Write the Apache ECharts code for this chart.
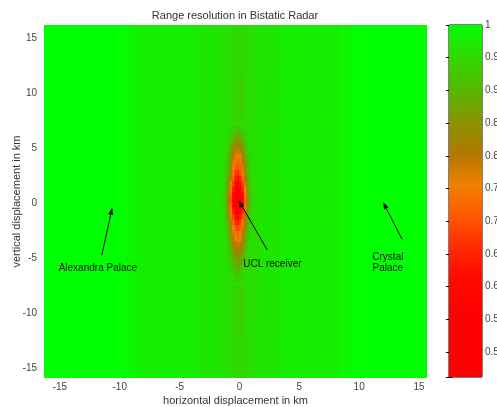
<!DOCTYPE html>
<html>
<head>
<meta charset="utf-8">
<script src="https://cdn.jsdelivr.net/npm/echarts@6/dist/echarts.min.js"></script>
<style>
  html, body { margin: 0; padding: 0; background: #fff; }
  #chart { width: 497px; height: 407px; }
</style>
</head>
<body>
<div id="chart"></div>
<script>
// coarse field, 1 km cells (x -16..16, y 16..-16)
const coarseX = [-16, -15, -14, -13, -12, -11, -10, -9, -8, -7, -6, -5, -4, -3, -2, -1, 0,
  1, 2, 3, 4, 5, 6, 7, 8, 9, 10, 11, 12, 13, 14, 15, 16];
const coarseY = [16, 15, 14, 13, 12, 11, 10, 9, 8, 7, 6, 5, 4, 3, 2, 1, 0,
  -1, -2, -3, -4, -5, -6, -7, -8, -9, -10, -11, -12, -13, -14, -15, -16];
const coarseRows = [
  "000000012222233454332222210000000",
  "000000012222233454332222210000000",
  "000000012222233454332222210000000",
  "000000012222233454332222210000000",
  "000000012222233454332222210000000",
  "000000012222233464332222210000000",
  "000000012222233464332222210000000",
  "000000012222233464332222210000000",
  "000000012222233464332222210000000",
  "000000012222233444332222210000000",
  "000000012222233444332222210000000",
  "000000012222233444332222210000000",
  "000000012222233444332222210000000",
  "000000012222233444332222210000000",
  "000000012222233444332222210000000",
  "000000012222233444332222210000000",
  "000000012222233444332222210000000",
  "000000012222233444332222210000000",
  "000000012222233444332222210000000",
  "000000012222233444332222210000000",
  "000000012222233444332222210000000",
  "000000012222233444332222210000000",
  "000000012222233444332222210000000",
  "000000012222233444332222210000000",
  "000000012222233464332222210000000",
  "000000012222233464332222210000000",
  "000000012222233464332222210000000",
  "000000012222233464332222210000000",
  "000000012222233454332222210000000",
  "000000012222233454332222210000000",
  "000000012222233454332222210000000",
  "000000012222233454332222210000000",
  "000000012222233454332222210000000"
];

// fine field round the receiver, 0.2 km x 0.5 km cells
const fineX = [-1.52, -1.32, -1.12, -0.92, -0.72, -0.52, -0.32, -0.12,
  0.08, 0.28, 0.48, 0.68, 0.88, 1.08, 1.28, 1.48];
const fineY = [6.75, 6.25, 5.75, 5.25, 4.75, 4.25, 3.75, 3.25, 2.75, 2.25, 1.75, 1.25, 0.75, 0.25,
  -0.25, -0.75, -1.25, -1.75, -2.25, -2.75, -3.25, -3.75, -4.25, -4.75, -5.25, -5.75, -6.25, -6.75];
const fineRows = [
  "4444568876444444",
  "444469aba8644444",
  "44458accba744444",
  "4446aceedc964444",
  "4447bdfgfda74444",
  "4459cfhiheb84444",
  "445adgijifc95444",
  "446adhjkjgd95444",
  "446beilmkhda5444",
  "447cfjnomjeb6444",
  "448chlpqolgc7444",
  "449dinrtrmhc8444",
  "45aejptvsoid8444",
  "45aekquwtpjd9444",
  "45aejptusoid8444",
  "449dinqsqmgc7444",
  "448cglopnkfb7444",
  "447bfjmnliea6444",
  "446aehkljgda5444",
  "445adgijifc95444",
  "4459cfhiheb84444",
  "4448befgfdb74444",
  "4447acefeca64444",
  "44469bddcb854444",
  "44457abbba744444",
  "444469aba8644444",
  "4444579987544444",
  "4444457765444444"
];

const levelKeys = "0123456789abcdefghijklmnopqrstuvw";
const levelValues = [1, 0.99, 0.98, 0.97, 0.96, 0.95, 0.94, 0.93, 0.92, 0.91,
  0.9, 0.88, 0.86, 0.84, 0.82, 0.8, 0.78, 0.76, 0.74, 0.72, 0.7, 0.68, 0.66,
  0.64, 0.62, 0.6, 0.58, 0.56, 0.54, 0.52, 0.5, 0.48, 0.46];

// colormap, low -> high
const palette = ["#ff0000", "#ff0000", "#ff0000", "#ff0800", "#ff2800", "#ff5800",
  "#f08000", "#b07800", "#889400", "#55b800", "#30d800", "#00ff00"];
const valueMin = 0.462;
const valueMax = 1;

const notes = [
  { text: "Alexandra Palace", at: [-11.83, -5.9], tail: [-11.5, -4.73], tip: [-10.63, -0.41] },
  { text: "Crystal\nPalace", at: [12.4, -5.4], tail: [13.58, -3.27], tip: [12.0, 0.09] },
  { text: "UCL receiver", at: [2.75, -5.6], tail: [2.33, -4.27], tip: [-0.08, 0.27] }
];

const font = "Liberation Sans";

function toCells(xs, ys, rows) {
  const out = [];
  rows.forEach(function (row, j) {
    for (let i = 0; i < row.length; i++) {
      out.push([xs[i], ys[j], levelValues[levelKeys.indexOf(row[i])]]);
    }
  });
  return out;
}

function cellRenderer(w, h) {
  return function (params, api) {
    const p0 = api.coord([api.value(0) - w / 2, api.value(1) + h / 2]);
    const p1 = api.coord([api.value(0) + w / 2, api.value(1) - h / 2]);
    return {
      type: "rect",
      shape: { x: p0[0], y: p0[1], width: p1[0] - p0[0] + 0.6, height: p1[1] - p0[1] + 0.6 },
      style: { fill: api.visual("color") }
    };
  };
}

function renderNote(params, api) {
  const n = notes[params.dataIndex];
  const a = api.coord(n.tail);
  const b = api.coord(n.tip);
  const t = api.coord(n.at);
  const ang = Math.atan2(b[1] - a[1], b[0] - a[0]);
  const len = 7, half = 2.5;
  const bx = b[0] - len * Math.cos(ang), by = b[1] - len * Math.sin(ang);
  return {
    type: "group",
    children: [
      { type: "line", shape: { x1: a[0], y1: a[1], x2: bx, y2: by }, style: { stroke: "#000", lineWidth: 1 } },
      {
        type: "polygon",
        shape: { points: [b, [bx + half * Math.sin(ang), by - half * Math.cos(ang)], [bx - half * Math.sin(ang), by + half * Math.cos(ang)]] },
        style: { fill: "#000" }
      },
      {
        type: "text", x: t[0], y: t[1],
        style: { text: n.text, align: "center", verticalAlign: "middle", fontSize: 10, lineHeight: 11, fontFamily: font, fill: "#111" }
      }
    ]
  };
}

function onStep(step) {
  return function (v) {
    const k = v / step;
    return Math.abs(k - Math.round(k)) < 1e-6 ? String(+v.toFixed(2)) : "";
  };
}

const gradientStops = palette.map(function (c, i) {
  return { offset: 1 - i / (palette.length - 1), color: c };
});

let myChart = echarts.init(document.getElementById("chart"));
let option = {
  animation: false,
  title: {
    text: "Range resolution in Bistatic Radar",
    left: 235, top: 10, padding: 0, textAlign: "center",
    textStyle: { fontSize: 11, fontWeight: "normal", color: "#333", fontFamily: font }
  },
  grid: [
    { left: 44, right: 70, top: 25, bottom: 29, outerBoundsMode: "none" },
    { left: 449, width: 33, top: 25, bottom: 30, outerBoundsMode: "none", show: true, borderColor: "#000", borderWidth: 1 }
  ],
  xAxis: [
    {
      gridIndex: 0, type: "value", min: -16.33, max: 15.67,
      axisLine: { show: false }, axisTick: { show: false }, splitLine: { show: false },
      axisLabel: { fontSize: 10, color: "#444", fontFamily: font, margin: 4, formatter: onStep(5) },
      name: "horizontal displacement in km", nameLocation: "middle", nameGap: 17, nameMoveOverlap: false,
      nameTextStyle: { fontSize: 11, color: "#333", fontFamily: font }
    },
    { gridIndex: 1, type: "value", min: 0, max: 1, show: false }
  ],
  yAxis: [
    {
      gridIndex: 0, type: "value", min: -15.9, max: 16.2,
      axisLine: { show: false }, axisTick: { show: false }, splitLine: { show: false },
      axisLabel: { fontSize: 10, color: "#444", fontFamily: font, margin: 7, formatter: onStep(5) },
      name: "vertical displacement in km", nameLocation: "middle", nameGap: 22, nameMoveOverlap: false,
      nameTextStyle: { fontSize: 11, color: "#333", fontFamily: font }
    },
    {
      gridIndex: 1, type: "value", position: "right", min: valueMin, max: valueMax, splitNumber: 10,
      axisLine: { show: false }, splitLine: { show: false },
      axisTick: { show: true, inside: true, length: 3, lineStyle: { color: "#000" } },
      axisLabel: { fontSize: 10, color: "#444", fontFamily: font, margin: 3, formatter: onStep(0.05) }
    },
    {
      gridIndex: 1, type: "value", position: "left", min: valueMin, max: valueMax, splitNumber: 10,
      axisLine: { show: false }, splitLine: { show: false },
      axisTick: { show: true, inside: true, length: 3, lineStyle: { color: "#000" } },
      axisLabel: { show: false }
    }
  ],
  visualMap: {
    show: false, type: "continuous", min: valueMin, max: valueMax,
    dimension: 2, seriesIndex: [0, 1], inRange: { color: palette }
  },
  series: [
    {
      name: "coarse", type: "custom", xAxisIndex: 0, yAxisIndex: 0, clip: true, silent: true,
      renderItem: cellRenderer(1, 1), data: toCells(coarseX, coarseY, coarseRows)
    },
    {
      name: "fine", type: "custom", xAxisIndex: 0, yAxisIndex: 0, clip: true, silent: true,
      renderItem: cellRenderer(0.2, 0.5), data: toCells(fineX, fineY, fineRows)
    },
    {
      name: "colorbar", type: "custom", xAxisIndex: 1, yAxisIndex: 1, silent: true,
      renderItem: function (params, api) {
        const p0 = api.coord([0, valueMax]);
        const p1 = api.coord([1, valueMin]);
        return {
          type: "rect",
          shape: { x: p0[0], y: p0[1], width: p1[0] - p0[0], height: p1[1] - p0[1] },
          style: { fill: new echarts.graphic.LinearGradient(0, 0, 0, 1, gradientStops) }
        };
      },
      data: [[0]]
    },
    {
      name: "notes", type: "custom", xAxisIndex: 0, yAxisIndex: 0, silent: true, z: 5,
      renderItem: renderNote, data: notes.map(function (n) { return n.tip; })
    }
  ]
};
myChart.setOption(option);
</script>
</body>
</html>
